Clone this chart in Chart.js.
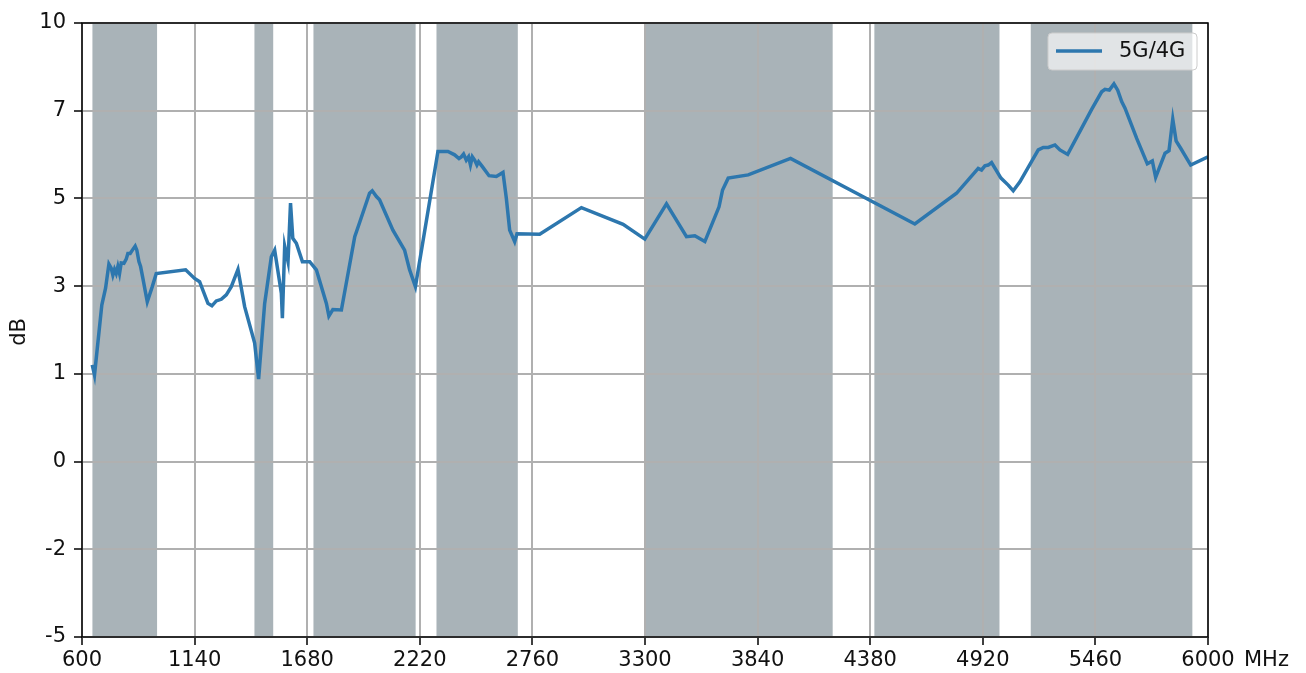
<!DOCTYPE html>
<html>
<head>
<meta charset="utf-8">
<script src="https://cdn.jsdelivr.net/npm/chart.js@4/dist/chart.umd.min.js"></script>
<style>
    html, body { margin: 0; padding: 0; background: #fff; }
    #wrap { width: 1306px; height: 673px; }
</style>
</head>
<body>
<div id="wrap"><canvas id="chart" width="1306" height="673"></canvas></div>
<script>
// frequency (MHz) and 5G/4G ratio (dB)
const freqMHz = [
    649, 660, 695, 713, 729, 740, 748, 756, 764, 772, 780, 788, 801, 812, 820, 831, 844, 855, 863, 873,
    881, 892, 913, 937, 956, 1097, 1140, 1164, 1204, 1223, 1244, 1268, 1292, 1316, 1348, 1380, 1428, 1447, 1476, 1508,
    1524, 1556, 1561, 1572, 1588, 1600, 1611, 1628, 1657, 1692, 1724, 1772, 1784, 1803, 1844, 1908, 1931, 1979, 1992, 2012,
    2027, 2091, 2147, 2171, 2199, 2307, 2355, 2387, 2408, 2419, 2430, 2443, 2454, 2463, 2472, 2483, 2494, 2502, 2520, 2552,
    2587, 2619, 2635, 2651, 2675, 2686, 2795, 2995, 3195, 3299, 3403, 3499, 3539, 3587, 3655, 3672, 3699, 3795, 3998, 4594,
    4794, 4898, 4914, 4930, 4946, 4962, 5007, 5042, 5066, 5098, 5186, 5210, 5234, 5266, 5290, 5327, 5442, 5490, 5506, 5527,
    5549, 5567, 5586, 5602, 5658, 5709, 5733, 5749, 5794, 5813, 5831, 5847, 5869, 5917, 6000
]
const ratioDb = [
    1.65, 1.40, 3.11, 3.52, 4.11, 4.01, 3.84, 3.98, 3.88, 4.05, 3.88, 4.14, 4.13, 4.23, 4.37, 4.37, 4.47, 4.55, 4.45, 4.17,
    4.05, 3.76, 3.19, 3.56, 3.88, 3.97, 3.76, 3.68, 3.15, 3.09, 3.21, 3.25, 3.36, 3.56, 3.98, 3.07, 2.18, 1.30, 3.15, 4.29,
    4.45, 3.40, 2.79, 4.55, 4.17, 5.60, 4.74, 4.62, 4.17, 4.17, 3.97, 3.15, 2.84, 3.00, 2.99, 4.78, 5.12, 5.84, 5.90, 5.76,
    5.68, 4.94, 4.45, 3.97, 3.56, 6.86, 6.86, 6.78, 6.69, 6.73, 6.80, 6.65, 6.73, 6.53, 6.73, 6.65, 6.53, 6.61, 6.49, 6.27,
    6.25, 6.35, 5.72, 4.94, 4.66, 4.85, 4.84, 5.49, 5.08, 4.72, 5.58, 4.78, 4.80, 4.66, 5.51, 5.92, 6.21, 6.29, 6.69, 5.09,
    5.84, 6.45, 6.41, 6.51, 6.53, 6.59, 6.21, 6.04, 5.90, 6.12, 6.90, 6.96, 6.96, 7.02, 6.90, 6.79, 7.89, 8.32, 8.38, 8.36,
    8.51, 8.36, 8.08, 7.92, 7.18, 6.56, 6.63, 6.23, 6.82, 6.88, 7.65, 7.12, 6.94, 6.53, 6.73
]

// shaded frequency bands (MHz)
const bandStart = [650, 1427, 1710, 2300, 3300, 4400, 5150]
const bandEnd = [960, 1517, 2200, 2690, 4200, 5000, 5925]

const xTicks = [600, 1140, 1680, 2220, 2760, 3300, 3840, 4380, 4920, 5460, 6000]
const yTicks = [-5, -2.857, -0.714, 1.429, 3.571, 5.714, 7.857, 10]

const lineColor = '#2d77ae'
const bandColor = '#a9b3b8'

Chart.defaults.font.family = "'DejaVu Sans', sans-serif"
Chart.defaults.font.size = 21
Chart.defaults.color = '#111'

const bandsPlugin = {
    id: 'bands',
    beforeDraw(chart) {
        const ctx = chart.ctx
        const area = chart.chartArea
        const x = chart.scales.x
        ctx.save()
        ctx.fillStyle = '#fff'
        ctx.fillRect(0, 0, chart.width, chart.height)
        ctx.fillStyle = bandColor
        for (let i = 0; i < bandStart.length; i++) {
            const x0 = x.getPixelForValue(bandStart[i])
            const x1 = x.getPixelForValue(bandEnd[i])
            ctx.fillRect(x0, area.top, x1 - x0, area.bottom - area.top)
        }
        ctx.restore()
    },
    afterDraw(chart) {
        const ctx = chart.ctx
        const area = chart.chartArea
        ctx.save()
        // spines
        ctx.strokeStyle = '#000'
        ctx.lineWidth = 1.5
        ctx.strokeRect(area.left, area.top, area.right - area.left, area.bottom - area.top)

        // axis titles
        ctx.fillStyle = '#111'
        ctx.font = "21px 'DejaVu Sans'"
        ctx.textBaseline = 'middle'
        ctx.textAlign = 'left'
        ctx.fillText('MHz', 1244, 661)
        ctx.translate(20, 332)
        ctx.rotate(-Math.PI / 2)
        ctx.textAlign = 'center'
        ctx.fillText('dB', 0, 0)
        ctx.restore()

        // legend
        ctx.save()
        const lx = 1048, ly = 33, lw = 149, lh = 37
        ctx.beginPath()
        ctx.roundRect(lx, ly, lw, lh, 4)
        ctx.fillStyle = 'rgba(255,255,255,0.65)'
        ctx.fill()
        ctx.strokeStyle = '#cccccc'
        ctx.lineWidth = 1
        ctx.stroke()
        ctx.beginPath()
        ctx.moveTo(1056, 51)
        ctx.lineTo(1102, 51)
        ctx.strokeStyle = lineColor
        ctx.lineWidth = 3.5
        ctx.stroke()
        ctx.fillStyle = '#111'
        ctx.font = "21px 'DejaVu Sans'"
        ctx.textBaseline = 'middle'
        ctx.textAlign = 'left'
        ctx.fillText('5G/4G', 1119, 52)
        ctx.restore()
    }
}

new Chart(document.getElementById('chart'), {
    type: 'line',
    data: {
        datasets: [{
            label: '5G/4G',
            data: freqMHz.map((f, i) => ({ x: f, y: ratioDb[i] })),
            borderColor: lineColor,
            borderWidth: 3.5,
            pointRadius: 0,
            tension: 0,
            fill: false,
        }]
    },
    options: {
        responsive: false,
        animation: false,
        layout: { padding: { top: 23, right: 98, left: 0, bottom: 0 } },
        plugins: {
            legend: { display: false },
            tooltip: { enabled: false },
        },
        scales: {
            x: {
                type: 'linear',
                min: 600,
                max: 6000,
                afterBuildTicks: scale => { scale.ticks = xTicks.map(v => ({ value: v })) },
                afterFit: scale => { scale.height = 36 },
                ticks: { padding: 3, maxRotation: 0, autoSkip: false, callback: v => String(v) },
                grid: { color: '#b0b0b0', lineWidth: 2, tickColor: '#000', tickLength: 8, tickWidth: 1.5 },
                border: { display: false },
            },
            y: {
                min: -5,
                max: 10,
                afterBuildTicks: scale => { scale.ticks = yTicks.map(v => ({ value: v })) },
                afterFit: scale => { scale.width = 82 },
                ticks: { padding: 8, autoSkip: false, callback: v => String(Math.trunc(v) || 0) },
                grid: { color: '#b0b0b0', lineWidth: 2, tickColor: '#000', tickLength: 8, tickWidth: 1.5 },
                border: { display: false },
            }
        }
    },
    plugins: [bandsPlugin]
})
</script>
</body>
</html>
